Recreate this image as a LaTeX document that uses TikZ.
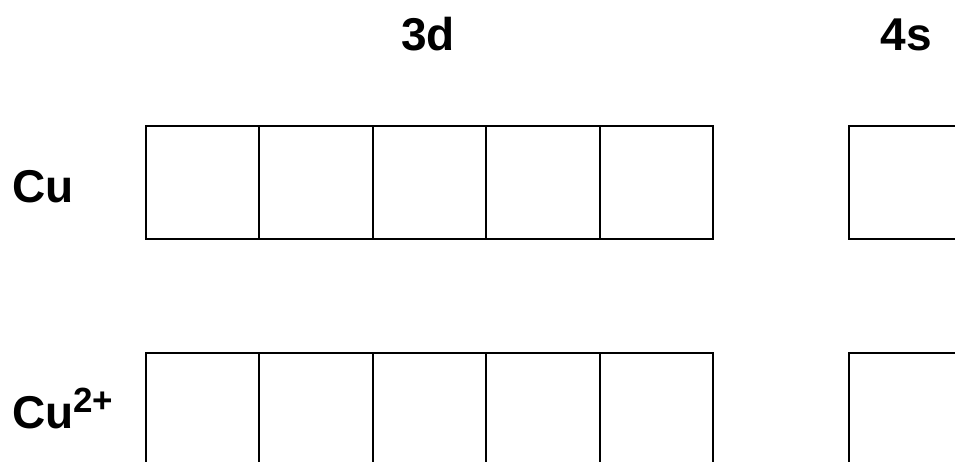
\documentclass[tikz,border=0pt]{standalone}
\usepackage{fontspec}
\setmainfont{Liberation Sans}
\newcommand{\charge}[1]{\raisebox{16pt}{\fontsize{35}{36}\selectfont #1}}
\begin{document}
\begin{tikzpicture}[x=1pt, y=-1pt, every node/.style={inner sep=0pt, font=\fontsize{46}{50}\selectfont\bfseries}, orbital/.style={draw, rectangle, minimum size=113.4pt, line width=2pt}]
	\useasboundingbox (0,0) rectangle (955,461);
	\clip (0,0) rectangle (955,461);
	\node[anchor=base] (dlabel) at (428,50) {3d};
	\node[anchor=base] (slabel) at (906,50) {4s};
	\node[anchor=base west] (atom) at (12,202) {Cu};
	\node[anchor=base west] (ion) at (12,428) {Cu\charge{2+}};
	\foreach \i in {1,...,5} {
		\node[orbital] (a\i) at (146+113.4*\i-56.7,182.7) {};
		\node[orbital] (b\i) at (146+113.4*\i-56.7,409.4) {};
	}
	\node[orbital] (as) at (905.7,182.7) {};
	\node[orbital] (bs) at (905.7,409.4) {};
\end{tikzpicture}
\end{document}
